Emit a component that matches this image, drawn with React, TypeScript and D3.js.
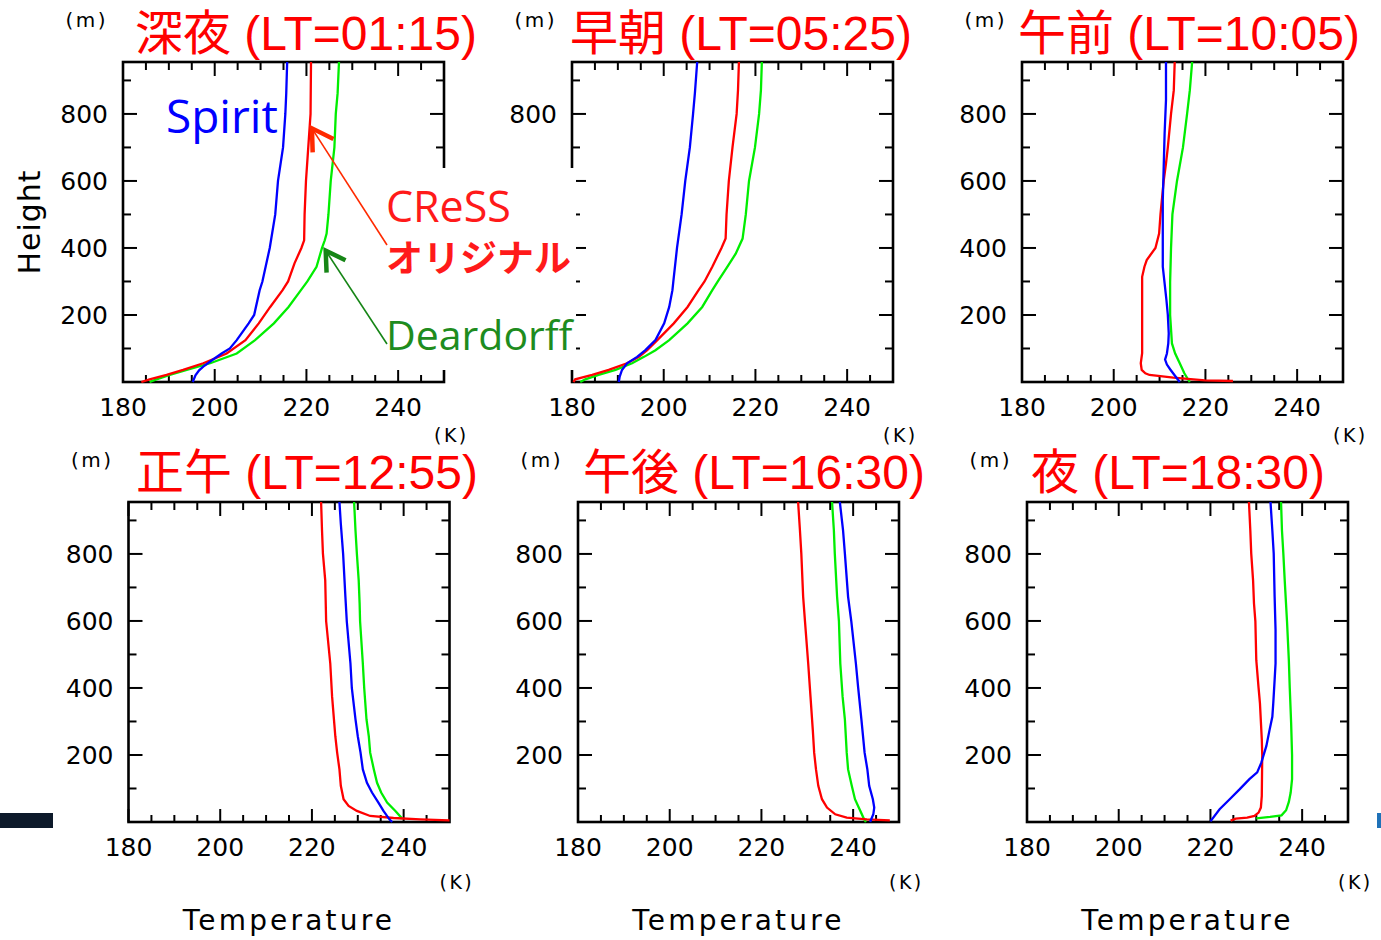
import React from 'react';
import * as d3 from 'd3';

// Profile points: [temperature (K), height (m)]
type Pt = [number, number];

// 深夜 (LT=01:15)
const spiritLateNight: Pt[] = [[195.2,0],[195.8,20],[196.6,35],[197.5,46],[199.4,65],[201.5,85],[203.3,100],[204.8,125],[207.4,175],[208.6,200],[209.8,274],[210.4,300],[212,400],[213.2,500],[213.8,600],[214.9,700],[215.4,800],[215.6,862],[215.8,955]];
const cressLateNight: Pt[] = [[184,0],[185.8,8],[189.5,21],[193.1,36],[197.5,56],[202.6,85],[206.7,125],[209.6,175],[212.1,224],[214.8,274],[216,300],[217.4,354],[218.9,400],[219.5,423],[219.6,500],[219.9,600],[220.4,700],[220.9,800],[221,955]];
const deardorffLateNight: Pt[] = [[185.8,0],[187.3,8],[190.2,21],[193.9,36],[199,56],[204.8,85],[208.8,125],[212.9,175],[216.1,224],[218.8,274],[220.2,300],[222.2,344],[223.4,400],[224,423],[224.4,443],[224.8,500],[225.3,600],[226.1,700],[226.4,800],[226.8,862],[227.1,955]];

// 早朝 (LT=05:25)
const spiritEarlyMorning: Pt[] = [[190.2,0],[190.4,16],[190.9,36],[192,56],[194.2,75],[196,95],[198.2,125],[200.1,175],[201.2,224],[201.9,274],[202.1,300],[202.9,400],[203.9,500],[204.7,600],[205.7,700],[206.4,800],[206.8,862],[207.3,955]];
const cressEarlyMorning: Pt[] = [[180.3,0],[180.7,8],[184.4,21],[188,36],[192,56],[194.6,75],[196.4,95],[198.6,125],[202.2,175],[205.2,224],[207.6,274],[208.9,300],[210.6,344],[212.6,400],[213.5,428],[213.7,500],[214.2,600],[215,700],[215.9,800],[216.2,871],[216.4,955]];
const deardorffEarlyMorning: Pt[] = [[181.8,0],[182.9,8],[185.8,21],[189.5,36],[193.1,56],[195.7,75],[198.2,95],[201.2,125],[205.2,175],[208.4,224],[210.6,274],[211.8,300],[213.9,344],[215.7,383],[217.2,428],[217.9,500],[218.6,600],[219.9,700],[220.8,800],[221.2,871],[221.4,955]];

// 午前 (LT=10:05)
const spiritMorning: Pt[] = [[214.4,0],[213.4,18],[212.3,38],[211.6,52],[211.2,67],[211.6,85],[211.9,115],[212,145],[211.8,200],[211.5,244],[211.1,294],[210.7,344],[210.7,443],[210.7,543],[210.9,642],[211.1,742],[211.4,842],[211.4,955]];
const cressMorning: Pt[] = [[226,3],[219.9,5],[213,13],[209.7,18],[207.8,21],[206.9,26],[206.1,36],[205.9,56],[206.2,86],[206.2,200],[206.2,314],[206.7,344],[207.2,364],[209.1,400],[209.9,443],[210.2,500],[210.9,600],[211.4,652],[211.8,700],[212.5,800],[213.1,871],[213.3,955]];
const deardorffMorning: Pt[] = [[216.6,0],[216.3,6],[215.4,26],[214.4,56],[213.4,85],[212.7,115],[212.3,200],[212.3,298],[212.5,400],[212.8,500],[213.8,600],[215.1,700],[216,800],[216.6,871],[217.1,955]];

// 正午 (LT=12:55)
const spiritNoon: Pt[] = [[237.5,0],[236.9,8],[235.6,33],[234.5,58],[233.1,88],[232,117],[231.1,157],[230.6,207],[230,256],[229.5,306],[228.7,400],[228.4,473],[227.6,599],[227.3,672],[226.8,801],[226.3,890],[226,955]];
const cressNoon: Pt[] = [[250,5],[243.6,8],[237.8,12],[232.7,18],[229.8,33],[228,48],[226.9,68],[226.3,108],[226,157],[225.5,207],[225.1,256],[224.9,290],[224.4,374],[224,473],[223.1,599],[222.9,721],[222.4,801],[222.2,870],[222,955]];
const deardorffNoon: Pt[] = [[239.6,8],[239.5,13],[238.2,33],[236.4,58],[235.1,88],[234.2,117],[233.5,157],[232.7,207],[232.4,256],[231.9,306],[231.4,400],[231.1,473],[230.5,599],[230.4,652],[230.2,721],[229.8,801],[229.5,870],[229.2,955]];

// 午後 (LT=16:30)
const spiritAfternoon: Pt[] = [[243.7,0],[244.4,23],[244.6,43],[244.3,68],[243.5,108],[243.1,157],[242.5,207],[241.8,306],[241.1,400],[240.6,473],[239.6,599],[238.9,672],[238.2,801],[237.8,870],[237.1,955]];
const cressAfternoon: Pt[] = [[248,5],[243,8],[238.6,13],[236.1,23],[234.3,43],[233.2,68],[232.4,108],[231.9,157],[231.5,207],[231.2,275],[230.7,374],[230.2,473],[229.5,599],[229.1,672],[228.7,801],[228.4,870],[228,955]];
const deardorffAfternoon: Pt[] = [[242.8,0],[242.4,8],[241.4,38],[240.4,68],[239.7,108],[238.9,157],[238.6,207],[238.2,306],[237.7,374],[237.2,473],[236.9,599],[236.5,672],[236,801],[235.8,870],[235.4,955]];

// 夜 (LT=18:30)
const spiritEvening: Pt[] = [[220,2],[222,38],[224.2,68],[226.4,98],[228.5,128],[230.2,148],[231.1,177],[232.2,227],[232.9,275],[233.5,314],[233.7,354],[234,424],[234.2,473],[234.2,574],[234,672],[233.8,801],[233.5,870],[233.1,955]];
const cressEvening: Pt[] = [[224.4,4],[225.5,10],[228,13],[229.6,18],[230.5,28],[231,43],[231.2,78],[231.3,200],[231.2,247],[230.8,354],[230.5,400],[230,483],[229.8,599],[229.5,652],[229.3,721],[228.9,801],[228.7,870],[228.4,955]];
const deardorffEvening: Pt[] = [[230,11],[233,15],[235.5,20],[236.5,35],[237.1,60],[237.5,88],[237.8,128],[237.8,200],[237.6,295],[237.3,400],[237.1,483],[236.7,599],[236.2,721],[235.9,801],[235.6,870],[235.4,955]];

const panelTitles = ['深夜 (LT=01:15)', '早朝 (LT=05:25)', '午前 (LT=10:05)', '正午 (LT=12:55)', '午後 (LT=16:30)', '夜 (LT=18:30)'];
const spiritSeries = [spiritLateNight, spiritEarlyMorning, spiritMorning, spiritNoon, spiritAfternoon, spiritEvening];
const cressSeries = [cressLateNight, cressEarlyMorning, cressMorning, cressNoon, cressAfternoon, cressEvening];
const deardorffSeries = [deardorffLateNight, deardorffEarlyMorning, deardorffMorning, deardorffNoon, deardorffAfternoon, deardorffEvening];

const tempDomain: [number, number] = [180, 250];
const heightDomain: [number, number] = [0, 955];
const tempTicks = [180, 200, 220, 240];
const heightTicks = [200, 400, 600, 800];

// Points the annotation arrows land on (first panel), [K, m]
const cressArrowTip: Pt = [221.2, 757];
const deardorffArrowTip: Pt = [224.2, 392];

// Layout
const PW = 321;
const PH = 320;
const origins: [number, number][] = [[123, 62], [572, 62], [1022, 62], [128.5, 502], [578, 502], [1027, 502]];
const titleLeft = [135, 570, 1018, 136, 583, 1031];
// the annotation block hides everything of the first two panels inside it
const noteBox = { x: 382, y: 168, w: 194, h: 202 };

const COL_SPIRIT = '#0000ff';
const COL_CRESS = '#ff0000';
const COL_DEAR = '#00ee00';
const tickFont = "'DejaVu Sans', sans-serif";
const titleFont = "'Liberation Sans', 'Noto Sans CJK JP', sans-serif";

const x = d3.scaleLinear().domain(tempDomain).range([0, PW]);
const y = d3.scaleLinear().domain(heightDomain).range([PH, 0]);
const line = d3.line<Pt>().x(d => x(d[0])).y(d => y(d[1]));

const minorT = d3.range(185, 250, 5).filter(v => !tempTicks.includes(v));
const minorH = d3.range(100, 955, 100).filter(v => !heightTicks.includes(v));

function hiddenByNote(px: number, py: number) {
  return px >= noteBox.x - 60 && px <= noteBox.x + noteBox.w && py >= noteBox.y && py <= noteBox.y + noteBox.h;
}

function Panel({ i }: { i: number }) {
  const [ox, oy] = origins[i];
  const top = i < 3;
  return (
    <g transform={`translate(${ox},${oy})`}>
      <defs>
        <clipPath id={`clip${i}`}>
          <rect x={-1} y={-1} width={PW + 2} height={PH + 2} />
        </clipPath>
      </defs>
      {/* frame ticks, inward on all four sides */}
      <g stroke="#000" strokeWidth={2}>
        {tempTicks.map(t => (
          <g key={`M${t}`}>
            <line x1={x(t)} x2={x(t)} y1={PH} y2={PH - 13} />
            <line x1={x(t)} x2={x(t)} y1={0} y2={14} />
          </g>
        ))}
        {minorT.map(t => (
          <g key={`m${t}`}>
            <line x1={x(t)} x2={x(t)} y1={PH} y2={PH - 7} />
            <line x1={x(t)} x2={x(t)} y1={0} y2={8} />
          </g>
        ))}
        {heightTicks.map(h => (
          <g key={`H${h}`}>
            <line x1={0} x2={14} y1={y(h)} y2={y(h)} />
            <line x1={PW} x2={PW - 14} y1={y(h)} y2={y(h)} />
          </g>
        ))}
        {minorH.map(h => (
          <g key={`h${h}`}>
            <line x1={0} x2={8} y1={y(h)} y2={y(h)} />
            <line x1={PW} x2={PW - 8} y1={y(h)} y2={y(h)} />
          </g>
        ))}
      </g>
      <rect x={0} y={0} width={PW} height={PH} fill="none" stroke="#000" strokeWidth={2.6} />
      <g clipPath={`url(#clip${i})`} fill="none" strokeWidth={2.3} strokeLinejoin="miter">
        <path d={line(deardorffSeries[i]) || ''} stroke={COL_DEAR} />
        <path d={line(cressSeries[i]) || ''} stroke={COL_CRESS} />
        <path d={line(spiritSeries[i]) || ''} stroke={COL_SPIRIT} />
      </g>
      {/* tick labels */}
      <g fontFamily={tickFont} fontSize={25} fill="#000">
        {tempTicks.map(t => (
          <text key={t} x={x(t)} y={PH + 34} textAnchor="middle">{t}</text>
        ))}
        {heightTicks
          .filter(h => !hiddenByNote(ox - 15, oy + y(h)))
          .map(h => (
            <text key={h} x={-15} y={y(h)} dy="0.36em" textAnchor="end">{h}</text>
          ))}
        <text x={-15} y={-35} fontSize={20} textAnchor="end" letterSpacing={2.5}>(m)</text>
        <text x={PW - 10} y={top ? 380 : 387} fontSize={19} letterSpacing={2.5}>(K)</text>
        {!top && (
          <text x={PW / 2} y={428} fontSize={28} letterSpacing={3.2} textAnchor="middle">Temperature</text>
        )}
      </g>
      <text x={titleLeft[i] - ox} y={top ? -12 : -13} fontFamily={titleFont} fontSize={48} fill="#ff0000">
        {panelTitles[i]}
      </text>
    </g>
  );
}

function Arrow({ from, tip, color, head }: { from: [number, number]; tip: [number, number]; color: string; head: number }) {
  const ang = Math.atan2(from[1] - tip[1], from[0] - tip[0]);
  const spread = (31 * Math.PI) / 180;
  const a1: [number, number] = [tip[0] + head * Math.cos(ang - spread), tip[1] + head * Math.sin(ang - spread)];
  const a2: [number, number] = [tip[0] + head * Math.cos(ang + spread), tip[1] + head * Math.sin(ang + spread)];
  return (
    <g stroke={color} fill="none">
      <line x1={from[0]} y1={from[1]} x2={tip[0]} y2={tip[1]} strokeWidth={1.6} />
      <polyline points={`${a1[0]},${a1[1]} ${tip[0]},${tip[1]} ${a2[0]},${a2[1]}`} strokeWidth={4.5} strokeLinejoin="miter" />
    </g>
  );
}

export default function App() {
  const [ox, oy] = origins[0];
  const redTip: [number, number] = [ox + x(cressArrowTip[0]), oy + y(cressArrowTip[1])];
  const greenTip: [number, number] = [ox + x(deardorffArrowTip[0]), oy + y(deardorffArrowTip[1])];
  const labelFont = "'Open Sans', 'Noto Sans', sans-serif";
  return (
    <svg width={1381} height={940} style={{ position: 'absolute', left: 0, top: 0, background: '#fff' }}>
      <rect x={0} y={0} width={1381} height={940} fill="#fff" />
      {[0, 1, 2, 3, 4, 5].map(i => (
        <Panel key={i} i={i} />
      ))}
      <text x={40} y={222} transform="rotate(-90 40 222)" textAnchor="middle" fontFamily={tickFont} fontSize={30} letterSpacing={1}>
        Height
      </text>
      {/* annotation block */}
      <rect x={noteBox.x} y={noteBox.y} width={noteBox.w} height={noteBox.h} fill="#fff" />
      <text x={166} y={133} fontFamily={labelFont} fontSize={46} fill={COL_SPIRIT}>Spirit</text>
      <text x={386} y={222} fontFamily={labelFont} fontSize={43} fill="#ff1a1a">CReSS</text>
      <text x={386} y={272} fontFamily="'Noto Sans CJK JP', sans-serif" fontWeight={700} fontSize={37} fill="#ff1a1a">オリジナル</text>
      <text x={386} y={350} fontFamily={labelFont} fontSize={41} fill="#1e8c1e">Deardorff</text>
      <Arrow from={[387, 245]} tip={redTip} color="#ff2a00" head={24} />
      <Arrow from={[387, 344]} tip={greenTip} color="#168516" head={22} />
      {/* slide edge bars */}
      <rect x={0} y={813} width={53} height={15} fill="#0d1a2a" />
      <rect x={1377} y={813} width={4} height={15} fill="#1f72b8" />
    </svg>
  );
}
